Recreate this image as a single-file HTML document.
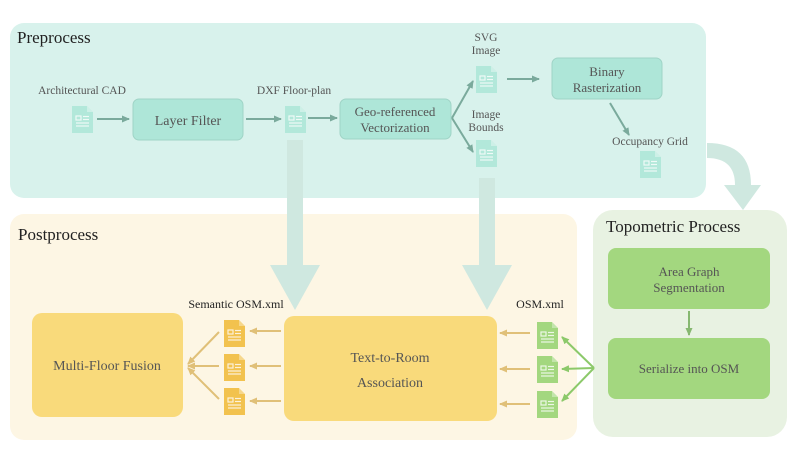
<!DOCTYPE html>
<html><head><meta charset="utf-8"><style>body{margin:0;background:#fff}svg{display:block}text{font-family:"Liberation Serif",serif;fill:#555}</style></head><body>
<svg width="797" height="449" viewBox="0 0 797 449" xmlns="http://www.w3.org/2000/svg">
<defs>
<marker id="ag" markerWidth="8" markerHeight="8" refX="7" refY="4" orient="auto" markerUnits="userSpaceOnUse"><path d="M0,0.5 L8,4 L0,7.5 z" fill="#7aaa9c"/></marker>
<marker id="ay" markerWidth="8" markerHeight="8" refX="7" refY="4" orient="auto" markerUnits="userSpaceOnUse"><path d="M0,0.5 L8,4 L0,7.5 z" fill="#e0c078"/></marker>
<marker id="an" markerWidth="8" markerHeight="8" refX="7" refY="4" orient="auto" markerUnits="userSpaceOnUse"><path d="M0,0.5 L8,4 L0,7.5 z" fill="#8cc96a"/></marker>
<marker id="ad" markerWidth="8" markerHeight="8" refX="7" refY="4" orient="auto" markerUnits="userSpaceOnUse"><path d="M0,0.5 L8,4 L0,7.5 z" fill="#86b870"/></marker>
<symbol id="doc" viewBox="0 0 21 27"><path d="M0,0 H15 L21,6 V27 H0 z" fill="currentColor"/><path d="M15,0 V6 H21" fill="#fff" opacity=".35"/><g fill="none" stroke="#fff" stroke-width="1.2" opacity=".8"><rect x="4" y="10" width="5" height="4"/><line x1="11" y1="10.5" x2="17" y2="10.5"/><line x1="11" y1="13.5" x2="17" y2="13.5"/><line x1="4" y1="17" x2="17" y2="17"/><line x1="4" y1="20" x2="17" y2="20"/></g></symbol>
</defs>
<rect x="10" y="23" width="696" height="175" rx="14" fill="#d8f2ec"/>
<rect x="10" y="214" width="567" height="226" rx="14" fill="#fdf6e4"/>
<rect x="593" y="210" width="194" height="227" rx="20" fill="#e8f2e2"/>
<text x="17" y="43" font-size="17" style="fill:#222">Preprocess</text>
<text x="18" y="240" font-size="17" style="fill:#222">Postprocess</text>
<text x="606" y="232" font-size="17" style="fill:#222">Topometric Process</text>
<!-- curved arrow -->
<path d="M707,143 Q751,143 751,185 L761,185 L743,210 L724,185 L735,185 Q735,158 707,158 z" fill="#cfe8e0"/>
<!-- big down arrows -->
<path d="M287,140 H303 V265 H320 L295,310 L270,265 H287 z" fill="#cfe8e0"/>
<path d="M479,178 H495 V265 H512 L487,310 L462,265 H479 z" fill="#cfe8e0"/>
<!-- preprocess boxes -->
<g fill="#aee6d8" stroke="#9fd4c6" stroke-width="1">
<rect x="133" y="99" width="110" height="41" rx="6"/>
<rect x="340" y="99" width="111" height="40" rx="6"/>
<rect x="552" y="58" width="110" height="41" rx="6"/>
</g>
<text x="188" y="125" font-size="14" text-anchor="middle">Layer Filter</text>
<text x="395" y="116" font-size="13" text-anchor="middle">Geo-referenced</text>
<text x="395" y="132" font-size="13" text-anchor="middle">Vectorization</text>
<text x="607" y="76" font-size="13" text-anchor="middle">Binary</text>
<text x="607" y="92" font-size="13" text-anchor="middle">Rasterization</text>
<g color="#b2e8da">
<use href="#doc" x="72" y="106" width="21" height="27"/>
<use href="#doc" x="285" y="106" width="21" height="27"/>
<use href="#doc" x="476" y="66" width="21" height="27"/>
<use href="#doc" x="476" y="140" width="21" height="27"/>
<use href="#doc" x="640" y="151" width="21" height="27"/>
</g>
<g font-size="11.5">
<text x="82" y="94" text-anchor="middle">Architectural CAD</text>
<text x="294" y="94" text-anchor="middle">DXF Floor-plan</text>
<text x="486" y="41" text-anchor="middle">SVG</text>
<text x="486" y="54" text-anchor="middle">Image</text>
<text x="486" y="118" text-anchor="middle">Image</text>
<text x="486" y="131" text-anchor="middle">Bounds</text>
<text x="650" y="145" text-anchor="middle">Occupancy Grid</text>
</g>
<g stroke="#7aaa9c" stroke-width="2" fill="none">
<line x1="97" y1="119" x2="129" y2="119" marker-end="url(#ag)"/>
<line x1="246" y1="119" x2="281" y2="119" marker-end="url(#ag)"/>
<line x1="308" y1="118" x2="337" y2="118" marker-end="url(#ag)"/>
<line x1="452" y1="118" x2="473" y2="81" marker-end="url(#ag)"/>
<line x1="452" y1="118" x2="473" y2="152" marker-end="url(#ag)"/>
<line x1="507" y1="79" x2="539" y2="79" marker-end="url(#ag)"/>
<line x1="610" y1="103" x2="629" y2="135" marker-end="url(#ag)"/>
</g>
<!-- postprocess -->
<rect x="32" y="313" width="151" height="104" rx="10" fill="#f9da7b"/>
<rect x="284" y="316" width="213" height="105" rx="10" fill="#f9da7b"/>
<text x="107" y="370" font-size="14" text-anchor="middle">Multi-Floor Fusion</text>
<text x="390" y="362" font-size="14" text-anchor="middle">Text-to-Room</text>
<text x="390" y="387" font-size="14" text-anchor="middle">Association</text>
<text x="236" y="308" font-size="12" text-anchor="middle" style="fill:#222">Semantic OSM.xml</text>
<text x="540" y="308" font-size="12" text-anchor="middle" style="fill:#222">OSM.xml</text>
<g color="#f2c24e">
<use href="#doc" x="224" y="320" width="21" height="27"/>
<use href="#doc" x="224" y="354" width="21" height="27"/>
<use href="#doc" x="224" y="388" width="21" height="27"/>
</g>
<g color="#a3d77f">
<use href="#doc" x="537" y="322" width="21" height="27"/>
<use href="#doc" x="537" y="356" width="21" height="27"/>
<use href="#doc" x="537" y="391" width="21" height="27"/>
</g>
<g stroke="#e0c078" stroke-width="2" fill="none">
<line x1="281" y1="331" x2="250" y2="331" marker-end="url(#ay)"/>
<line x1="281" y1="366" x2="250" y2="366" marker-end="url(#ay)"/>
<line x1="281" y1="401" x2="250" y2="401" marker-end="url(#ay)"/>
<line x1="530" y1="333" x2="500" y2="333" marker-end="url(#ay)"/>
<line x1="530" y1="369" x2="500" y2="369" marker-end="url(#ay)"/>
<line x1="530" y1="404" x2="500" y2="404" marker-end="url(#ay)"/>
<line x1="219" y1="332" x2="188" y2="364" marker-end="url(#ay)"/>
<line x1="219" y1="366" x2="188" y2="366" marker-end="url(#ay)"/>
<line x1="219" y1="399" x2="188" y2="368" marker-end="url(#ay)"/>
</g>
<g stroke="#8cc96a" stroke-width="2" fill="none">
<line x1="594" y1="368" x2="562" y2="337" marker-end="url(#an)"/>
<line x1="594" y1="368" x2="562" y2="369" marker-end="url(#an)"/>
<line x1="594" y1="368" x2="562" y2="401" marker-end="url(#an)"/>
</g>
<!-- topometric -->
<rect x="608" y="248" width="162" height="61" rx="8" fill="#a3d77f"/>
<rect x="608" y="338" width="162" height="61" rx="8" fill="#a3d77f"/>
<text x="689" y="276" font-size="13" text-anchor="middle">Area Graph</text>
<text x="689" y="292" font-size="13" text-anchor="middle">Segmentation</text>
<text x="689" y="373" font-size="13" text-anchor="middle">Serialize into OSM</text>
<line x1="689" y1="311" x2="689" y2="335" stroke="#86b870" stroke-width="2" marker-end="url(#ad)"/>
</svg>
</body></html>
